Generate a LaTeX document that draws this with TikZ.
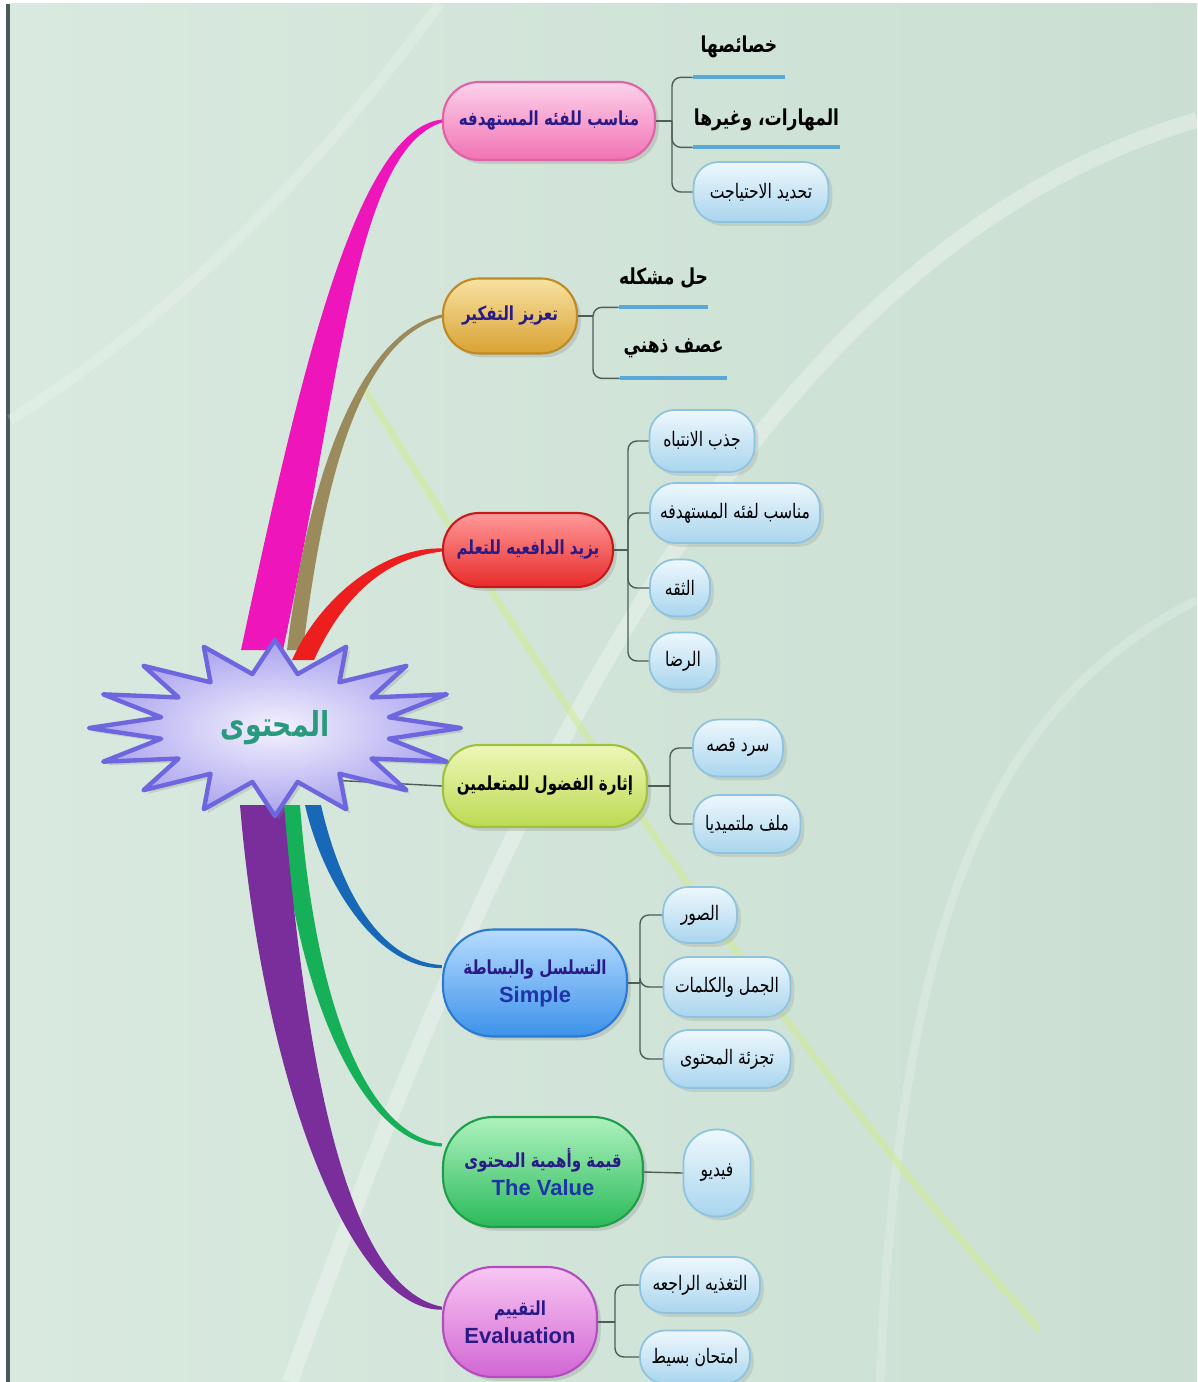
\documentclass[tikz,border=0pt]{standalone}
\usepackage{fontspec}
\usepackage{tikz}
\usetikzlibrary{calc,positioning,shapes,shadows}
\TeXXeTstate=1
\newfontfamily\arabicfont[Script=Arabic, FakeStretch=0.78]{DejaVu Sans}
\newfontfamily\latinfont{Liberation Sans}
\newcommand{\artext}[1]{\arabicfont\beginR #1\endR}
% colour, half width, direction (1 up, -1 down), start, control 1, control 2, end
\newcommand{\ribbon}[7]{%
  \fill[#1] ($(#4)+(-#2,0)$) .. controls ($(#5)+(-#2,0)$) and ($(#6)+(0,-0.5*#2*#3)$) .. ($(#7)+(0,-1.5*#3)$)
    -- ($(#7)+(0,1.5*#3)$) .. controls ($(#6)+(0,0.5*#2*#3)$) and ($(#5)+(#2,0)$) .. ($(#4)+(#2,0)$) -- cycle;}

\definecolor{bgA}{HTML}{D9E9DF}
\definecolor{bgB}{HTML}{CADFD2}
\definecolor{frame}{HTML}{4A5A58}
\definecolor{maintext}{HTML}{2A1A86}
\definecolor{entext}{HTML}{1E34A8}
\definecolor{leafA}{HTML}{EEF8FD}
\definecolor{leafB}{HTML}{A9D5EE}
\definecolor{leafline}{HTML}{8EC3DF}
\definecolor{linkgray}{HTML}{4E5C5A}
\definecolor{ulblue}{HTML}{5AA8D6}
\definecolor{pinkbr}{HTML}{EE16BA}
\definecolor{olivebr}{HTML}{9A8A5C}
\definecolor{redbr}{HTML}{EC1E1E}
\definecolor{bluebr}{HTML}{1868B8}
\definecolor{greenbr}{HTML}{16B058}
\definecolor{purplebr}{HTML}{7A2E9C}
\definecolor{starin}{HTML}{F4F2FE}
\definecolor{starout}{HTML}{A9A2EE}
\definecolor{starline}{HTML}{6E66DE}
\definecolor{coretext}{HTML}{2A9A7E}
% topic fills: light top, full bottom, border
\definecolor{pinkA}{HTML}{FCD2EA}\definecolor{pinkB}{HTML}{F272B4}\definecolor{pinkL}{HTML}{E062A4}
\definecolor{goldA}{HTML}{F8E2A2}\definecolor{goldB}{HTML}{D9A233}\definecolor{goldL}{HTML}{BE8A22}
\definecolor{redA}{HTML}{FF9A9A}\definecolor{redB}{HTML}{E82A2A}\definecolor{redL}{HTML}{C41A1A}
\definecolor{limeA}{HTML}{EEF7B8}\definecolor{limeB}{HTML}{BCDA52}\definecolor{limeL}{HTML}{A0C03E}
\definecolor{blueA}{HTML}{B8DCFF}\definecolor{blueB}{HTML}{3C92EA}\definecolor{blueL}{HTML}{2A7AD0}
\definecolor{greenA}{HTML}{AEF2BE}\definecolor{greenB}{HTML}{2ABA5A}\definecolor{greenL}{HTML}{1E9E46}
\definecolor{violA}{HTML}{F8C6F2}\definecolor{violB}{HTML}{D266D4}\definecolor{violL}{HTML}{B44CC0}

\begin{document}
\begin{tikzpicture}[x=0.02cm, y=-0.02cm,
    main/.style  = {draw, line width=1.2pt, rounded corners=0.72cm, align=center, text=maintext,
                    font=\fontsize{11}{15}\selectfont\bfseries, drop shadow={opacity=0.25}},
    big/.style   = {main, rounded corners=1cm},
    leaf/.style  = {draw=leafline, line width=1pt, rounded corners=0.5cm, top color=leafA,
                    bottom color=leafB, font=\fontsize{11.4}{13}\selectfont, drop shadow={opacity=0.2}},
    tline/.style = {inner sep=0pt, font=\fontsize{12.5}{14}\selectfont\bfseries},
    link/.style  = {draw=linkgray, line width=0.8pt, rounded corners=5pt},
    uline/.style = {draw=ulblue, line width=2.2pt}]

  % background and frame
  \useasboundingbox (0,0) rectangle (1197,1382);
  \fill[white] (0,0) rectangle (1197,1382);
  \shade[left color=bgA, right color=bgB] (10,4) rectangle (1197,1382);
  \fill[frame] (6,4) rectangle (10,1382);
  \draw[white, opacity=0.3, line width=9] (290,1382) .. controls (500,800) and (750,250) .. (1197,120);
  \draw[white, opacity=0.2, line width=6] (440,4) .. controls (330,150) and (200,300) .. (10,420);
  \draw[white, opacity=0.2, line width=5] (1197,600) .. controls (1000,700) and (900,900) .. (880,1382);
  \draw[yellow!60!green!45!white, opacity=0.55, line width=4] (365,390) .. controls (520,640) and (760,1020) .. (1040,1330);

  % main topics
  \node[main, draw=pinkL, top color=pinkA, bottom color=pinkB, minimum width=4.24cm, minimum height=1.56cm] (m1) at (549,121) {\artext{مناسب للفئه المستهدفه}};
  \node[main, draw=goldL, top color=goldA, bottom color=goldB, minimum width=2.68cm, minimum height=1.5cm] (m2) at (510,316) {\artext{تعزيز التفكير}};
  \node[main, draw=redL, top color=redA, bottom color=redB, minimum width=3.4cm, minimum height=1.48cm] (m3) at (528,550) {\artext{يزيد الدافعيه للتعلم}};
  \node[main, text=black, draw=limeL, top color=limeA, bottom color=limeB, minimum width=4.08cm, minimum height=1.64cm] (m4) at (545,786) {\artext{إثارة الفضول للمتعلمين}};
  \node[big, draw=blueL, top color=blueA, bottom color=blueB, minimum width=3.68cm, minimum height=2.14cm] (m5) at (535,983) {\artext{التسلسل والبساطة}\\[1pt] {\latinfont\fontsize{12.5}{15}\selectfont\bfseries\color{entext} Simple}};
  \node[big, draw=greenL, top color=greenA, bottom color=greenB, minimum width=4.0cm, minimum height=2.2cm] (m6) at (543,1172) {\artext{قيمة وأهمية المحتوى}\\[1pt] {\latinfont\fontsize{12.5}{15}\selectfont\bfseries\color{entext} The Value}};
  \node[big, draw=violL, top color=violA, bottom color=violB, minimum width=3.08cm, minimum height=2.2cm] (m7) at (520,1322) {\artext{التقييم}\\[1pt] {\latinfont\fontsize{12.5}{15}\selectfont\bfseries\color{maintext} Evaluation}};

  % branches from the centre
  \coordinate (s1) at (262,650);
  \coordinate (s2) at (295,650);
  \coordinate (s3) at (303,660);
  \coordinate (s4) at (330,780);
  \coordinate (s5) at (313,805);
  \coordinate (s6) at (290,805);
  \coordinate (s7) at (262,805);
  \ribbon{pinkbr}{21}{1}{s1}{320,380}{355,140}{m1.west}
  \ribbon{olivebr}{8}{1}{s2}{318,460}{365,335}{m2.west}
  \ribbon{redbr}{11}{1}{s3}{335,590}{390,552}{m3.west}
  \draw[linkgray, line width=0.8pt] (s4) -- (m4.west);
  \ribbon{bluebr}{8}{-1}{s5}{330,880}{375,965}{m5.170}
  \ribbon{greenbr}{10}{-1}{s6}{305,1000}{365,1140}{m6.165}
  \ribbon{purplebr}{22}{-1}{s7}{285,1080}{350,1300}{m7.170}

  % centre star
  \node (core) at (275,728) {};
  \draw[starline, line width=2.5pt, line join=round, inner color=starin, outer color=starout, drop shadow={opacity=0.25}]
    ($(core)+(0:186 and 88)$) \foreach \a in {0,22.5,...,337.5} {
      -- ($(core)+(\a+11.25:116 and 55)$) -- ($(core)+(\a+22.5:186 and 88)$) } -- cycle;
  \node[text=coretext, font=\fontsize{19.5}{22}\selectfont\bfseries] at (core) {\artext{المحتوى}};

  % sub topics
  \node[tline, minimum width=1.84cm, minimum height=1.2cm] (c11) at (739,47) {\artext{خصائصها}};
  \node[tline, minimum width=2.94cm, minimum height=1.08cm] (c12) at (766.5,120) {\artext{المهارات، وغيرها}};
  \node[leaf, minimum width=2.7cm, minimum height=1.2cm] (c13) at (761,192) {\artext{تحديد الاحتياجت}};

  \node[tline, minimum width=1.74cm, minimum height=1.16cm] (c21) at (663.5,278) {\artext{حل مشكله}};
  \node[tline, minimum width=2.14cm, minimum height=1.2cm] (c22) at (673.5,348) {\artext{عصف ذهني}};

  \node[leaf, minimum width=2.1cm, minimum height=1.24cm] (c31) at (702,441) {\artext{جذب الانتباه}};
  \node[leaf, minimum width=3.4cm, minimum height=1.2cm] (c32) at (735,513) {\artext{مناسب لفئه المستهدفه}};
  \node[leaf, minimum width=1.2cm, minimum height=1.14cm] (c33) at (680,588) {\artext{الثقه}};
  \node[leaf, minimum width=1.34cm, minimum height=1.14cm] (c34) at (683,661) {\artext{الرضا}};

  \node[leaf, minimum width=1.8cm, minimum height=1.14cm] (c41) at (738,748) {\artext{سرد قصه}};
  \node[leaf, minimum width=2.14cm, minimum height=1.16cm] (c42) at (747,824) {\artext{ملف ملتميديا}};

  \node[leaf, minimum width=1.48cm, minimum height=1.12cm] (c51) at (700,915) {\artext{الصور}};
  \node[leaf, minimum width=2.54cm, minimum height=1.2cm] (c52) at (727,987) {\artext{الجمل والكلمات}};
  \node[leaf, minimum width=2.54cm, minimum height=1.16cm] (c53) at (727,1059) {\artext{تجزئة المحتوى}};

  \node[leaf, minimum width=1.34cm, minimum height=1.74cm, rounded corners=0.65cm] (c61) at (717,1173) {\artext{فيديو}};

  \node[leaf, minimum width=2.4cm, minimum height=1.12cm] (c71) at (700,1285) {\artext{التغذيه الراجعه}};
  \node[leaf, minimum width=2.2cm, minimum height=1.06cm] (c72) at (695,1357) {\artext{امتحان بسيط}};

  % underlines of the plain sub topics
  \foreach \n in {c11,c12,c21,c22}
    \draw[uline] (\n.south west) -- (\n.south east);

  % lines from each topic to its sub topics
  \coordinate (b1) at (672,121);
  \coordinate (b2) at (593,316);
  \coordinate (b3) at (628,550);
  \coordinate (b4) at (670,786);
  \coordinate (b5) at (640,983);
  \coordinate (b7) at (615,1322);
  \draw[link] (m1.east) -- (b1);
  \draw[link] (m2.east) -- (b2);
  \draw[link] (m3.east) -- (b3);
  \draw[link] (m4.east) -- (b4);
  \draw[link] (m5.east) -- (b5);
  \draw[link] (m6.east) -- (c61.west);
  \draw[link] (m7.east) -- (b7);

  \foreach \value in {1,2}
    \draw[link] (b1) |- (c1\value.south west);
  \draw[link] (b1) |- (c13.west);

  \foreach \value in {1,2}
    \draw[link] (b2) |- (c2\value.south west);

  \foreach \value in {1,...,4}
    \draw[link] (b3) |- (c3\value.west);

  \foreach \value in {1,2}
    \draw[link] (b4) |- (c4\value.west);

  \foreach \value in {1,...,3}
    \draw[link] (b5) |- (c5\value.west);

  \foreach \value in {1,2}
    \draw[link] (b7) |- (c7\value.west);
\end{tikzpicture}
\end{document}
